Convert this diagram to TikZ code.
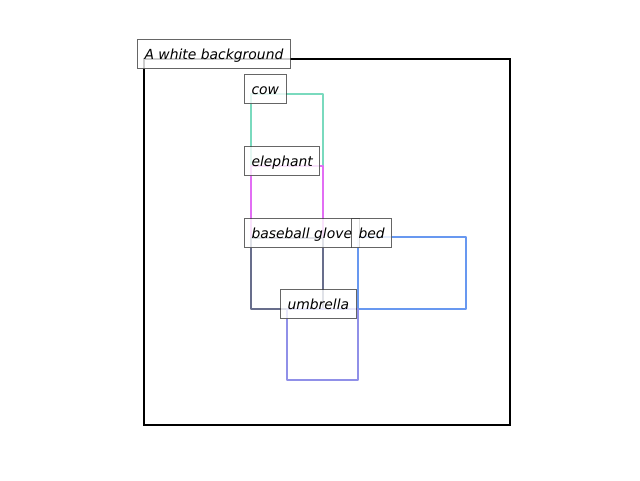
\documentclass[tikz,border=0pt]{standalone}
\usepackage{fontspec}
\setmainfont{DejaVu Sans}
\begin{document}
\begin{tikzpicture}[x=1pt,y=-1pt,
  bbox/.style={line width=2.6pt, line join=round},
  lbl/.style={anchor=base west, xshift=-7pt, draw=black!75, draw opacity=0.8, fill=white, fill opacity=0.8, text opacity=1,
     line width=1pt, inner xsep=7pt, inner ysep=0pt, text height=19.5pt, text depth=9.5pt,
     font=\fontsize{13.9}{16}\selectfont\itshape}]
\definecolor{cowc}{RGB}{122,218,190}
\definecolor{elec}{RGB}{226,110,244}
\definecolor{glovec}{RGB}{104,110,140}
\definecolor{bedc}{RGB}{104,152,240}
\definecolor{umbc}{RGB}{144,144,232}
\useasboundingbox (0,0) rectangle (640,480);
\draw[line width=2.2pt, black] (144,59) rectangle (510,425);
\draw[bbox, cowc] (251,94) rectangle (323,166);
\draw[bbox, elec] (251,166) rectangle (323,238);
\draw[bbox, glovec] (251,238) rectangle (323,309);
\draw[bbox, bedc] (358,237) rectangle (466,309);
\draw[bbox, umbc] (287,309) rectangle (358,380);
\coordinate (cbg) at (144,59);
\coordinate (ccow) at (251,94);
\coordinate (cele) at (251,166);
\coordinate (cglo) at (251,238);
\coordinate (cbed) at (358,238);
\coordinate (cumb) at (287,309);
\node[lbl] (lbg) at (cbg) {A white background};
\node[lbl] (lcow) at (ccow) {cow};
\node[lbl] (lele) at (cele) {elephant};
\node[lbl] (lglo) at (cglo) {baseball glove};
\node[lbl] (lbed) at (cbed) {bed};
\node[lbl] (lumb) at (cumb) {umbrella};
\end{tikzpicture}
\end{document}
